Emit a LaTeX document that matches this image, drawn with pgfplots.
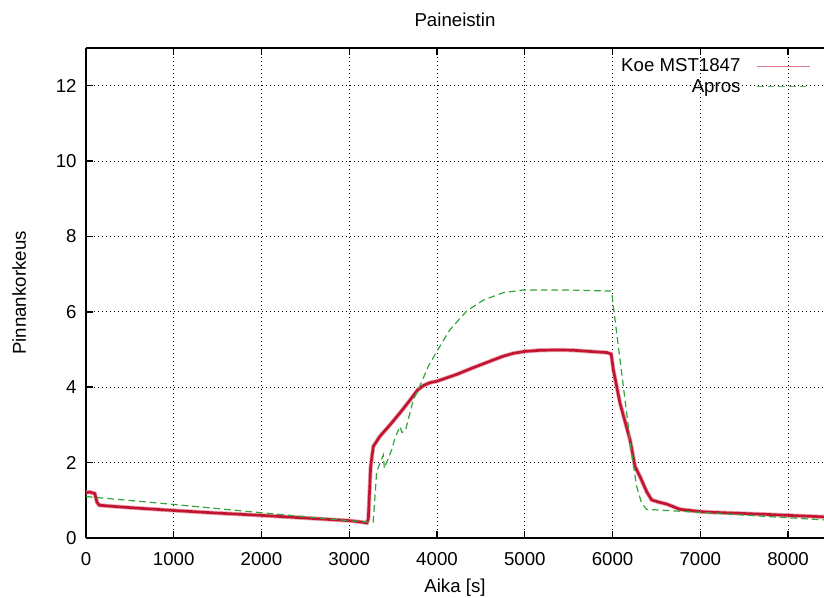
\documentclass[border=0pt]{standalone}
\usepackage{fontspec}
\setmainfont{Liberation Sans}
\usepackage{pgfplots}
\pgfplotsset{compat=1.18}
\definecolor{koered}{RGB}{195,20,50}
\definecolor{aprosgreen}{RGB}{50,165,60}
\newcommand{\lblfont}{\fontsize{14}{16.5}\selectfont}

\begin{document}
\begin{tikzpicture}
\useasboundingbox (-64.5pt,-45pt) rectangle (553.5pt,403.5pt);
\begin{axis}[
    scale only axis, width=553.5pt, height=367.5pt,
    at={(0,0)}, anchor=south west,
    xmin=0, xmax=8410, ymin=0, ymax=13,
    xtick={0,1000,...,8000}, ytick={0,2,...,12},
    axis x line*=box, axis y line*=left,
    axis line style={line width=1.2pt, black},
    tick style={line width=1.1pt, black},
    major tick length=5pt,
    tick align=inside,
    grid=major,
    major grid style={black, line width=0.6pt, dash pattern=on 0.6pt off 2.4pt},
    /pgf/number format/assume math mode=true,
    /pgf/number format/1000 sep={},
    tick label style={font=\lblfont},
    xticklabel style={yshift=-7pt},
    yticklabel style={xshift=-3.5pt},
    title={Paineistin},
    title style={font=\lblfont, at={(axis description cs:0.5,1.042)}, anchor=center},
    xlabel={Aika [s]},
    xlabel style={font=\lblfont, at={(axis description cs:0.5,-0.101)}, anchor=center},
    ylabel={Pinnankorkeus},
    ylabel style={font=\lblfont, at={(axis description cs:-0.0905,0.5)}, anchor=center},
    legend style={draw=none, fill=none, font=\lblfont,
                  at={(axis description cs:1,1)}, anchor=north east,
                  xshift=-6.5pt, yshift=-4pt, row sep=0pt, column sep=10pt},
    legend cell align=right,
    legend plot pos=right,
    legend image code/.code={\draw[#1] (0pt,0pt) -- (40pt,0pt);},
]
  \addlegendimage{color=koered!55, line width=0.9pt}
  \addlegendentry{Koe MST1847}
  \addlegendimage{color=aprosgreen!80, line width=0.9pt, dash pattern=on 5pt off 3pt}
  \addlegendentry{Apros}

  % measured level (noisy band)
  \addplot[color=koered!35, line width=3.2pt, mark=none, forget plot]
    coordinates {
    (0,1.20)(40,1.22)(100,1.18)(125,0.95)(150,0.87)(300,0.84)(600,0.79)
    (1000,0.73)(1500,0.66)(2000,0.60)(2500,0.53)(3000,0.46)(3150,0.42)
    (3200,0.40)(3217,0.50)(3244,1.90)(3274,2.43)(3350,2.70)(3464,3.00)
    (3578,3.32)(3680,3.62)(3780,3.93)(3850,4.05)(3920,4.12)(4000,4.16)
    (4224,4.34)(4414,4.52)(4604,4.69)(4750,4.82)(4870,4.90)(5000,4.95)
    (5174,4.98)(5400,4.99)(5554,4.98)(5800,4.94)(5934,4.92)(5985,4.88)
    (6009,4.47)(6085,3.58)(6199,2.61)(6256,1.90)(6313,1.63)(6389,1.23)
    (6446,1.01)(6530,0.95)(6617,0.90)(6769,0.76)(7000,0.70)(7150,0.68)
    (7720,0.63)(8000,0.60)(8410,0.56)};
  \addplot[color=koered, line width=2pt, mark=none, forget plot]
    coordinates {
    (0,1.20)(40,1.22)(100,1.18)(125,0.95)(150,0.87)(300,0.84)(600,0.79)
    (1000,0.73)(1500,0.66)(2000,0.60)(2500,0.53)(3000,0.46)(3150,0.42)
    (3200,0.40)(3217,0.50)(3244,1.90)(3274,2.43)(3350,2.70)(3464,3.00)
    (3578,3.32)(3680,3.62)(3780,3.93)(3850,4.05)(3920,4.12)(4000,4.16)
    (4224,4.34)(4414,4.52)(4604,4.69)(4750,4.82)(4870,4.90)(5000,4.95)
    (5174,4.98)(5400,4.99)(5554,4.98)(5800,4.94)(5934,4.92)(5985,4.88)
    (6009,4.47)(6085,3.58)(6199,2.61)(6256,1.90)(6313,1.63)(6389,1.23)
    (6446,1.01)(6530,0.95)(6617,0.90)(6769,0.76)(7000,0.70)(7150,0.68)
    (7720,0.63)(8000,0.60)(8410,0.56)};

  % Apros simulation
  \addplot[color=aprosgreen, line width=0.9pt, dash pattern=on 5pt off 3pt, mark=none, forget plot]
    coordinates {
    (0,1.10)(1000,0.89)(2000,0.67)(3000,0.46)(3230,0.42)(3272,0.42)
    (3290,1.00)(3312,1.76)(3388,2.20)(3400,1.85)(3484,2.34)(3521,2.65)
    (3578,2.96)(3600,2.80)(3640,2.85)(3730,3.67)(3787,3.94)(3900,4.55)
    (4000,4.96)(4148,5.53)(4338,6.02)(4528,6.31)(4756,6.51)(4984,6.58)
    (5500,6.58)(5990,6.55)(6009,6.16)(6218,2.25)(6275,1.37)(6332,0.92)
    (6389,0.76)(6617,0.73)(7150,0.66)(7909,0.55)(8410,0.48)};
\end{axis}
\end{tikzpicture}
\end{document}
